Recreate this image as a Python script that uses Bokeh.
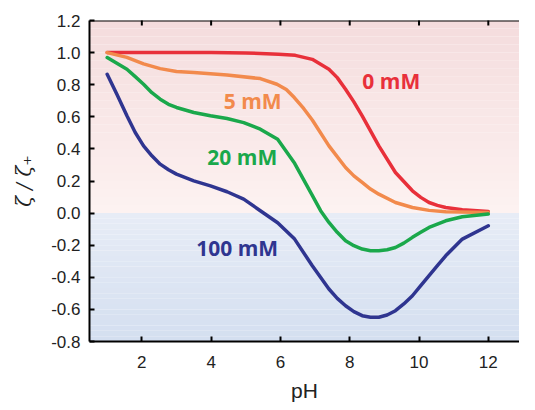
import math
from bokeh.plotting import figure
from bokeh.models import LinearAxis, FixedTicker, BoxAnnotation, Range1d, Span, NumeralTickFormatter
from bokeh.core.properties import value
from bokeh.embed import file_html
from bokeh.resources import INLINE

# --- data ---
ph_0 = [1, 2, 3, 4, 5, 5.95, 6.43, 6.92, 7.4, 7.64, 7.88, 8.12, 8.36, 8.84, 9.32, 9.81, 10.05, 10.29, 10.53, 10.77, 11.25, 12]
z_0 = [1.0, 1.0, 1.0, 1.0, 0.998, 0.99, 0.983, 0.958, 0.896, 0.844, 0.772, 0.693, 0.606, 0.419, 0.253, 0.139, 0.098, 0.066, 0.048, 0.035, 0.021, 0.01]

ph_5 = [1, 1.57, 2.05, 2.53, 3.0, 3.5, 4.46, 5.42, 5.9, 6.17, 6.4, 6.67, 6.92, 7.4, 7.88, 8.12, 8.36, 8.6, 8.84, 9.32, 9.81, 10.29, 10.77, 12]
z_5 = [1.0, 0.97, 0.93, 0.90, 0.882, 0.876, 0.861, 0.838, 0.803, 0.77, 0.72, 0.652, 0.58, 0.419, 0.284, 0.232, 0.191, 0.15, 0.118, 0.066, 0.035, 0.017, 0.008, 0.004]

ph_20 = [1, 1.57, 1.81, 2.05, 2.29, 2.53, 2.77, 3.0, 3.5, 3.98, 4.46, 4.94, 5.42, 5.92, 6.41, 6.9, 7.16, 7.4, 7.64, 7.88, 8.12, 8.36, 8.6, 8.84, 9.08, 9.32, 9.56, 9.81, 10.05, 10.29, 10.77, 11.25, 12]
z_20 = [0.969, 0.896, 0.85, 0.803, 0.75, 0.71, 0.678, 0.658, 0.627, 0.606, 0.589, 0.564, 0.523, 0.46, 0.31, 0.118, 0.015, -0.058, -0.12, -0.172, -0.203, -0.224, -0.234, -0.234, -0.228, -0.214, -0.187, -0.151, -0.12, -0.089, -0.048, -0.023, -0.006]

ph_100 = [1, 1.28, 1.57, 1.81, 2.05, 2.29, 2.53, 2.77, 3.0, 3.5, 3.98, 4.46, 4.94, 5.42, 5.92, 6.41, 6.92, 7.4, 7.64, 7.88, 8.12, 8.36, 8.6, 8.84, 9.08, 9.32, 9.56, 9.81, 10.05, 10.29, 10.53, 10.77, 11.25, 12]
z_100 = [0.865, 0.741, 0.606, 0.502, 0.419, 0.357, 0.305, 0.27, 0.243, 0.201, 0.17, 0.133, 0.087, 0.015, -0.06, -0.162, -0.328, -0.473, -0.531, -0.577, -0.614, -0.639, -0.649, -0.649, -0.635, -0.608, -0.566, -0.515, -0.452, -0.39, -0.328, -0.266, -0.162, -0.079]

series_labels = ["0 mM", "5 mM", "20 mM", "100 mM"]
label_ph = [9.2, 5.2, 4.9, 4.75]
label_z = [0.82, 0.70, 0.35, -0.22]
colors = ["#e8303a", "#f28a4c", "#1aa84b", "#2f3590"]

x_ticks = [2, 4, 6, 8, 10, 12]
y_ticks = [-0.8, -0.6, -0.4, -0.2, 0.0, 0.2, 0.4, 0.6, 0.8, 1.0, 1.2]

p = figure(width=519, height=404, output_backend="svg", toolbar_location=None,
           x_range=Range1d(0.49, 12.9), y_range=Range1d(-0.8, 1.2),
           x_axis_location=None, y_axis_location=None,
           min_border_left=89, min_border_top=20, min_border_right=0, min_border_bottom=63)
p.outline_line_color = None
p.grid.visible = False
p.background_fill_color = "white"

# gradient background bands
def mix(c1, c2, t):
    a = [int(c1[i:i + 2], 16) for i in (1, 3, 5)]
    b = [int(c2[i:i + 2], 16) for i in (1, 3, 5)]
    return "#%02x%02x%02x" % tuple(round(a[k] + (b[k] - a[k]) * t) for k in range(3))

n = 24
ytop = y_ticks[-1]
ybot = y_ticks[0]
for i in range(n):
    lo = ytop * i / n
    hi = ytop * (i + 1) / n
    p.add_layout(BoxAnnotation(bottom=lo, top=hi, fill_color=mix("#fdf2f1", "#f4dcdd", (i + 0.5) / n),
                               fill_alpha=1, line_alpha=0, level="underlay"))
for i in range(n):
    hi = ybot * i / n
    lo = ybot * (i + 1) / n
    p.add_layout(BoxAnnotation(bottom=lo, top=hi, fill_color=mix("#e7ecf6", "#d4dff0", (i + 0.5) / n),
                               fill_alpha=1, line_alpha=0, level="underlay"))

for xs, ys, c in [(ph_0, z_0, colors[0]), (ph_5, z_5, colors[1]), (ph_20, z_20, colors[2]), (ph_100, z_100, colors[3])]:
    p.line(xs, ys, line_color=c, line_width=3.5, line_join="round", line_cap="round")

for lab, xx, yy, c in zip(series_labels, label_ph, label_z, colors):
    p.text(x=[xx], y=[yy], text=[lab], text_color=c, text_font=value("Open Sans"),
           text_font_style="bold", text_font_size="21px", text_align="center", text_baseline="middle")

# top frame line with inward ticks (no labels)
p.add_layout(Span(location=ytop, dimension="width", line_color="black", line_width=2))
p.scatter(x=x_ticks, y=[ytop] * len(x_ticks), marker="dash", angle=math.pi / 2, size=10,
          line_color="black", line_width=2)

def style(ax, ticks):
    ax.ticker = FixedTicker(ticks=ticks)
    ax.axis_line_color = "black"
    ax.axis_line_width = 2
    ax.major_tick_in = 5
    ax.major_tick_out = 0
    ax.major_tick_line_width = 2
    ax.major_tick_line_color = "black"
    ax.minor_tick_line_color = None
    ax.major_label_text_font = "Liberation Sans"
    ax.major_label_text_font_size = "17px"
    ax.major_label_text_color = "#222222"

xb = LinearAxis(axis_label="pH")
style(xb, x_ticks)
xb.major_label_standoff = 14
xb.axis_label_standoff = 8
xb.axis_label_text_font = "Liberation Sans"
xb.axis_label_text_font_style = "normal"
xb.axis_label_text_font_size = "21px"
xb.axis_label_text_color = "#222222"
p.add_layout(xb, "below")

yl = LinearAxis(axis_label="ζ / ζ₊")
style(yl, y_ticks)
yl.formatter = NumeralTickFormatter(format="0.0")
yl.major_label_standoff = 9
yl.axis_label_standoff = 12
yl.axis_label_text_font = "DejaVu Serif"
yl.axis_label_text_font_style = "italic"
yl.axis_label_text_font_size = "20px"
yl.axis_label_text_color = "#222222"
p.add_layout(yl, "left")

open("out.html", "w").write(file_html(p, INLINE))
